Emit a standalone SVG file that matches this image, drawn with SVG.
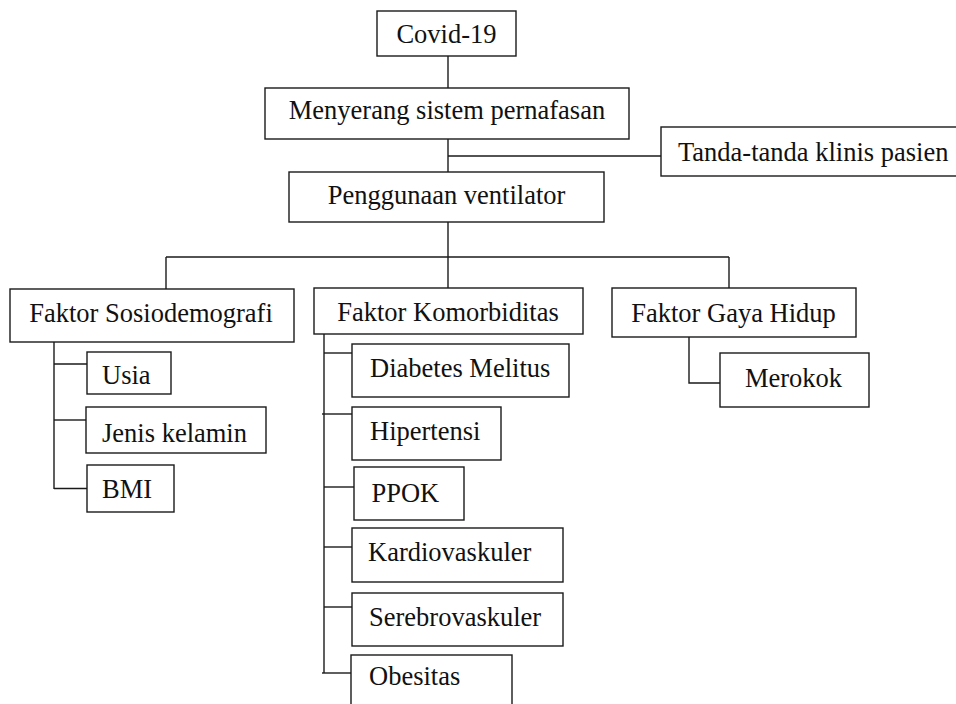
<svg xmlns="http://www.w3.org/2000/svg" width="956" height="704" viewBox="0 0 956 704">
<style>
rect{fill:#fff;stroke:#1a1a1a;stroke-width:1.4}
text{font-family:"Liberation Serif","Times New Roman",serif;font-size:26.5px;fill:#111}
.c{text-anchor:middle}
#connectors path{fill:none;stroke:#1a1a1a;stroke-width:1.4}
</style>
<rect x="0" y="0" width="956" height="704" style="fill:#fff;stroke:none"/>
<g id="connectors">
<path d="M448 56V88"/>
<path d="M448 139V172"/>
<path d="M448 156H661"/>
<path d="M448 222V257"/>
<path d="M166 257H729"/>
<path d="M166 257V289"/>
<path d="M448 257V288"/>
<path d="M729 257V288"/>
<path d="M54 342V489"/>
<path d="M54 364H87"/>
<path d="M54 420H86"/>
<path d="M54 488.5H87"/>
<path d="M324 334V673"/>
<path d="M324 353H352"/>
<path d="M322 414H352"/>
<path d="M324 487H354"/>
<path d="M324 547H352"/>
<path d="M324 607H352"/>
<path d="M322 673H351"/>
<path d="M689 337V383H720"/>
</g>
<g id="covid"><rect x="377" y="11" width="139" height="45"/><text class="c" x="446.5" y="43">Covid-19</text></g>
<g id="menyerang"><rect x="265" y="88" width="364" height="51"/><text class="c" x="447" y="119">Menyerang sistem pernafasan</text></g>
<g id="tanda"><rect x="661" y="127" width="300" height="49"/><text x="678" y="161">Tanda-tanda klinis pasien</text></g>
<g id="penggunaan"><rect x="289" y="172" width="315" height="50"/><text class="c" x="446.5" y="204">Penggunaan ventilator</text></g>
<g id="sosio"><rect x="10" y="289" width="284" height="53"/><text class="c" x="151" y="322">Faktor Sosiodemografi</text></g>
<g id="usia"><rect x="87" y="352" width="84" height="42"/><text x="102" y="384">Usia</text></g>
<g id="jenis"><rect x="86" y="407" width="180" height="46"/><text x="102" y="442">Jenis kelamin</text></g>
<g id="bmi"><rect x="87" y="465" width="87" height="47"/><text x="102" y="498">BMI</text></g>
<g id="komorbid"><rect x="314" y="288" width="269" height="46"/><text class="c" x="448" y="321">Faktor Komorbiditas</text></g>
<g id="diabetes"><rect x="352" y="344" width="217" height="53"/><text x="370" y="377">Diabetes Melitus</text></g>
<g id="hipertensi"><rect x="352" y="407" width="149" height="53"/><text x="370" y="440">Hipertensi</text></g>
<g id="ppok"><rect x="354" y="467" width="110" height="53"/><text x="371.5" y="502">PPOK</text></g>
<g id="kardio"><rect x="352" y="528" width="211" height="54"/><text x="368" y="561">Kardiovaskuler</text></g>
<g id="serebro"><rect x="352" y="593" width="211" height="53"/><text x="369" y="626">Serebrovaskuler</text></g>
<g id="obesitas"><rect x="351" y="655" width="161" height="60"/><text x="369" y="685">Obesitas</text></g>
<g id="gaya"><rect x="612" y="288" width="244" height="49"/><text class="c" x="733.5" y="322">Faktor Gaya Hidup</text></g>
<g id="merokok"><rect x="720" y="353" width="149" height="54"/><text class="c" x="793.5" y="387">Merokok</text></g>
</svg>
